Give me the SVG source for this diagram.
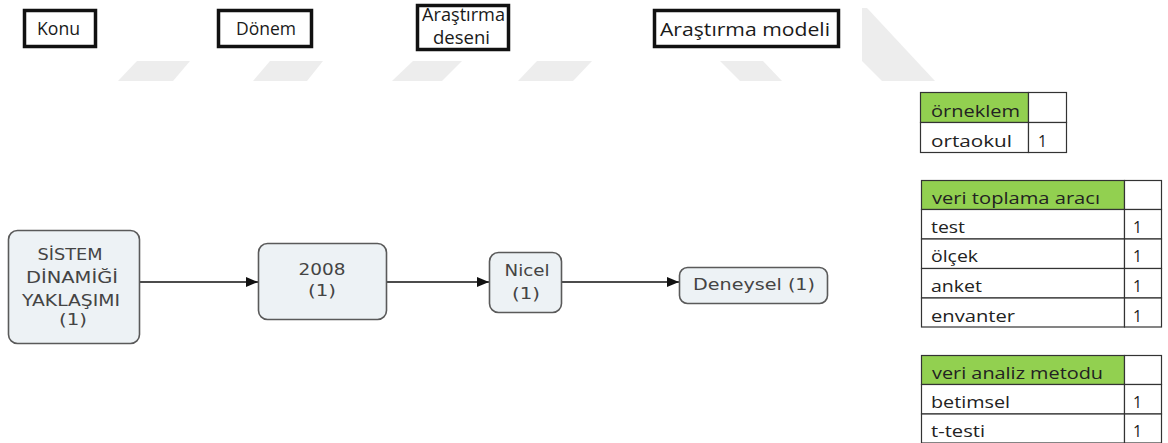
<svg xmlns="http://www.w3.org/2000/svg" width="1168" height="443" viewBox="0 0 1168 443">
<defs>
<style>
.wm{fill:#ededed}
.hdr{fill:#fff;stroke:#111;stroke-width:3.5}
.ht{font-family:"Open Sans","Noto Sans",sans-serif;font-size:18px;fill:#1a1a1a}
.node{fill:#edf2f5;stroke:#5a5a5a;stroke-width:1.6}
.nt{font-family:"DejaVu Sans",Verdana,sans-serif;font-size:15px;fill:#444;text-anchor:middle}
.edge{stroke:#111;stroke-width:1.4;fill:none}
.cell{fill:#fff;stroke:#333;stroke-width:1.2}
.green{fill:#92d050;stroke:#333;stroke-width:1.2}
.tt{font-family:"Open Sans","Noto Sans",sans-serif;font-size:17px;fill:#222}
</style>
<marker id="arr" viewBox="0 0 12 10" refX="12" refY="5" markerWidth="12" markerHeight="10" markerUnits="userSpaceOnUse" orient="auto">
<path d="M0,0 L12,5 L0,10 Z" fill="#111"/>
</marker>
</defs>
<rect width="1168" height="443" fill="#fff"/>
<g id="watermark">
<polygon class="wm" points="118,81 137,61 190,61 173,81"/>
<polygon class="wm" points="253,81 270,61 323,61 307,81"/>
<polygon class="wm" points="392,81 413,61 462,61 442,81"/>
<polygon class="wm" points="518,81 537,61 592,61 573,81"/>
<polygon class="wm" points="720,61 763,61 782,81 740,81"/>
<polygon class="wm" points="862,8 867,8 935,81 882,81 862,61"/>
</g>
<g id="hdr-konu">
<rect class="hdr" x="24.5" y="10.5" width="71" height="36"/>
<text class="ht" x="37" y="35" textLength="43" lengthAdjust="spacingAndGlyphs">Konu</text>
</g>
<g id="hdr-donem">
<rect class="hdr" x="218.5" y="10.5" width="93" height="36"/>
<text class="ht" x="236" y="35" textLength="60" lengthAdjust="spacingAndGlyphs">Dönem</text>
</g>
<g id="hdr-desen">
<rect class="hdr" x="417.5" y="5.5" width="91" height="44"/>
<text class="ht" x="422" y="21" textLength="83" lengthAdjust="spacingAndGlyphs">Araştırma</text>
<text class="ht" x="433" y="44" textLength="57" lengthAdjust="spacingAndGlyphs">deseni</text>
</g>
<g id="hdr-model">
<rect class="hdr" x="654.5" y="10.5" width="184" height="36"/>
<text class="ht" x="660" y="36" textLength="170" lengthAdjust="spacingAndGlyphs">Araştırma modeli</text>
</g>
<g id="connectors">
<line class="edge" x1="140" y1="282" x2="258" y2="282" marker-end="url(#arr)"/>
<line class="edge" x1="387" y1="282" x2="489" y2="282" marker-end="url(#arr)"/>
<line class="edge" x1="562" y1="282" x2="679" y2="282" marker-end="url(#arr)"/>
</g>
<g id="node-konu">
<rect class="node" x="8.5" y="230.5" width="131" height="113" rx="9"/>
<text class="nt" x="70" y="260" textLength="65" lengthAdjust="spacingAndGlyphs">SİSTEM</text>
<text class="nt" x="72" y="283" textLength="92" lengthAdjust="spacingAndGlyphs">DİNAMİĞİ</text>
<text class="nt" x="71" y="306" textLength="98" lengthAdjust="spacingAndGlyphs">YAKLAŞIMI</text>
<text class="nt" x="73" y="325" textLength="28" lengthAdjust="spacingAndGlyphs">(1)</text>
</g>
<g id="node-donem">
<rect class="node" x="258.5" y="243.5" width="128" height="76" rx="9"/>
<text class="nt" x="322" y="275" textLength="47" lengthAdjust="spacingAndGlyphs">2008</text>
<text class="nt" x="322" y="296" textLength="28" lengthAdjust="spacingAndGlyphs">(1)</text>
</g>
<g id="node-desen">
<rect class="node" x="489.5" y="252.5" width="72" height="60" rx="9"/>
<text class="nt" x="527" y="276" textLength="45" lengthAdjust="spacingAndGlyphs">Nicel</text>
<text class="nt" x="526" y="299" textLength="28" lengthAdjust="spacingAndGlyphs">(1)</text>
</g>
<g id="node-model">
<rect class="node" x="679.5" y="267.5" width="148" height="36" rx="8"/>
<text class="nt" x="754" y="290" textLength="122" lengthAdjust="spacingAndGlyphs">Deneysel (1)</text>
</g>
<g id="table-orneklem">
<rect class="green" x="920.5" y="92.5" width="108" height="30"/>
<rect class="cell" x="1028.5" y="92.5" width="38" height="30"/>
<rect class="cell" x="920.5" y="122.5" width="108" height="30"/>
<rect class="cell" x="1028.5" y="122.5" width="38" height="30"/>
<text class="tt" x="931" y="117" textLength="89" lengthAdjust="spacingAndGlyphs">örneklem</text>
<text class="tt" x="931" y="147" textLength="81" lengthAdjust="spacingAndGlyphs">ortaokul</text>
<text class="tt" x="1038" y="147" textLength="9" lengthAdjust="spacingAndGlyphs">1</text>
</g>
<g id="table-veri-toplama">
<rect class="green" x="921.5" y="180.5" width="203" height="29"/>
<rect class="cell" x="1124.5" y="180.5" width="37" height="29"/>
<rect class="cell" x="921.5" y="209.5" width="203" height="29.5"/>
<rect class="cell" x="1124.5" y="209.5" width="37" height="29.5"/>
<rect class="cell" x="921.5" y="239" width="203" height="29.5"/>
<rect class="cell" x="1124.5" y="239" width="37" height="29.5"/>
<rect class="cell" x="921.5" y="268.5" width="203" height="29.5"/>
<rect class="cell" x="1124.5" y="268.5" width="37" height="29.5"/>
<rect class="cell" x="921.5" y="298" width="203" height="29"/>
<rect class="cell" x="1124.5" y="298" width="37" height="29"/>
<text class="tt" x="932" y="204" textLength="168" lengthAdjust="spacingAndGlyphs">veri toplama aracı</text>
<text class="tt" x="931" y="233" textLength="34" lengthAdjust="spacingAndGlyphs">test</text>
<text class="tt" x="931" y="262" textLength="47" lengthAdjust="spacingAndGlyphs">ölçek</text>
<text class="tt" x="931" y="292" textLength="51" lengthAdjust="spacingAndGlyphs">anket</text>
<text class="tt" x="931" y="322" textLength="84" lengthAdjust="spacingAndGlyphs">envanter</text>
<text class="tt" x="1133" y="233" textLength="9" lengthAdjust="spacingAndGlyphs">1</text>
<text class="tt" x="1133" y="262" textLength="9" lengthAdjust="spacingAndGlyphs">1</text>
<text class="tt" x="1133" y="292" textLength="9" lengthAdjust="spacingAndGlyphs">1</text>
<text class="tt" x="1133" y="322" textLength="9" lengthAdjust="spacingAndGlyphs">1</text>
</g>
<g id="table-veri-analiz">
<rect class="green" x="921.5" y="355.5" width="203" height="29"/>
<rect class="cell" x="1124.5" y="355.5" width="37" height="29"/>
<rect class="cell" x="921.5" y="384.5" width="203" height="29.5"/>
<rect class="cell" x="1124.5" y="384.5" width="37" height="29.5"/>
<rect class="cell" x="921.5" y="414" width="203" height="29"/>
<rect class="cell" x="1124.5" y="414" width="37" height="29"/>
<text class="tt" x="932" y="379" textLength="171" lengthAdjust="spacingAndGlyphs">veri analiz metodu</text>
<text class="tt" x="931" y="408" textLength="79" lengthAdjust="spacingAndGlyphs">betimsel</text>
<text class="tt" x="931" y="437" textLength="54" lengthAdjust="spacingAndGlyphs">t-testi</text>
<text class="tt" x="1133" y="408" textLength="9" lengthAdjust="spacingAndGlyphs">1</text>
<text class="tt" x="1133" y="437" textLength="9" lengthAdjust="spacingAndGlyphs">1</text>
</g>
</svg>
